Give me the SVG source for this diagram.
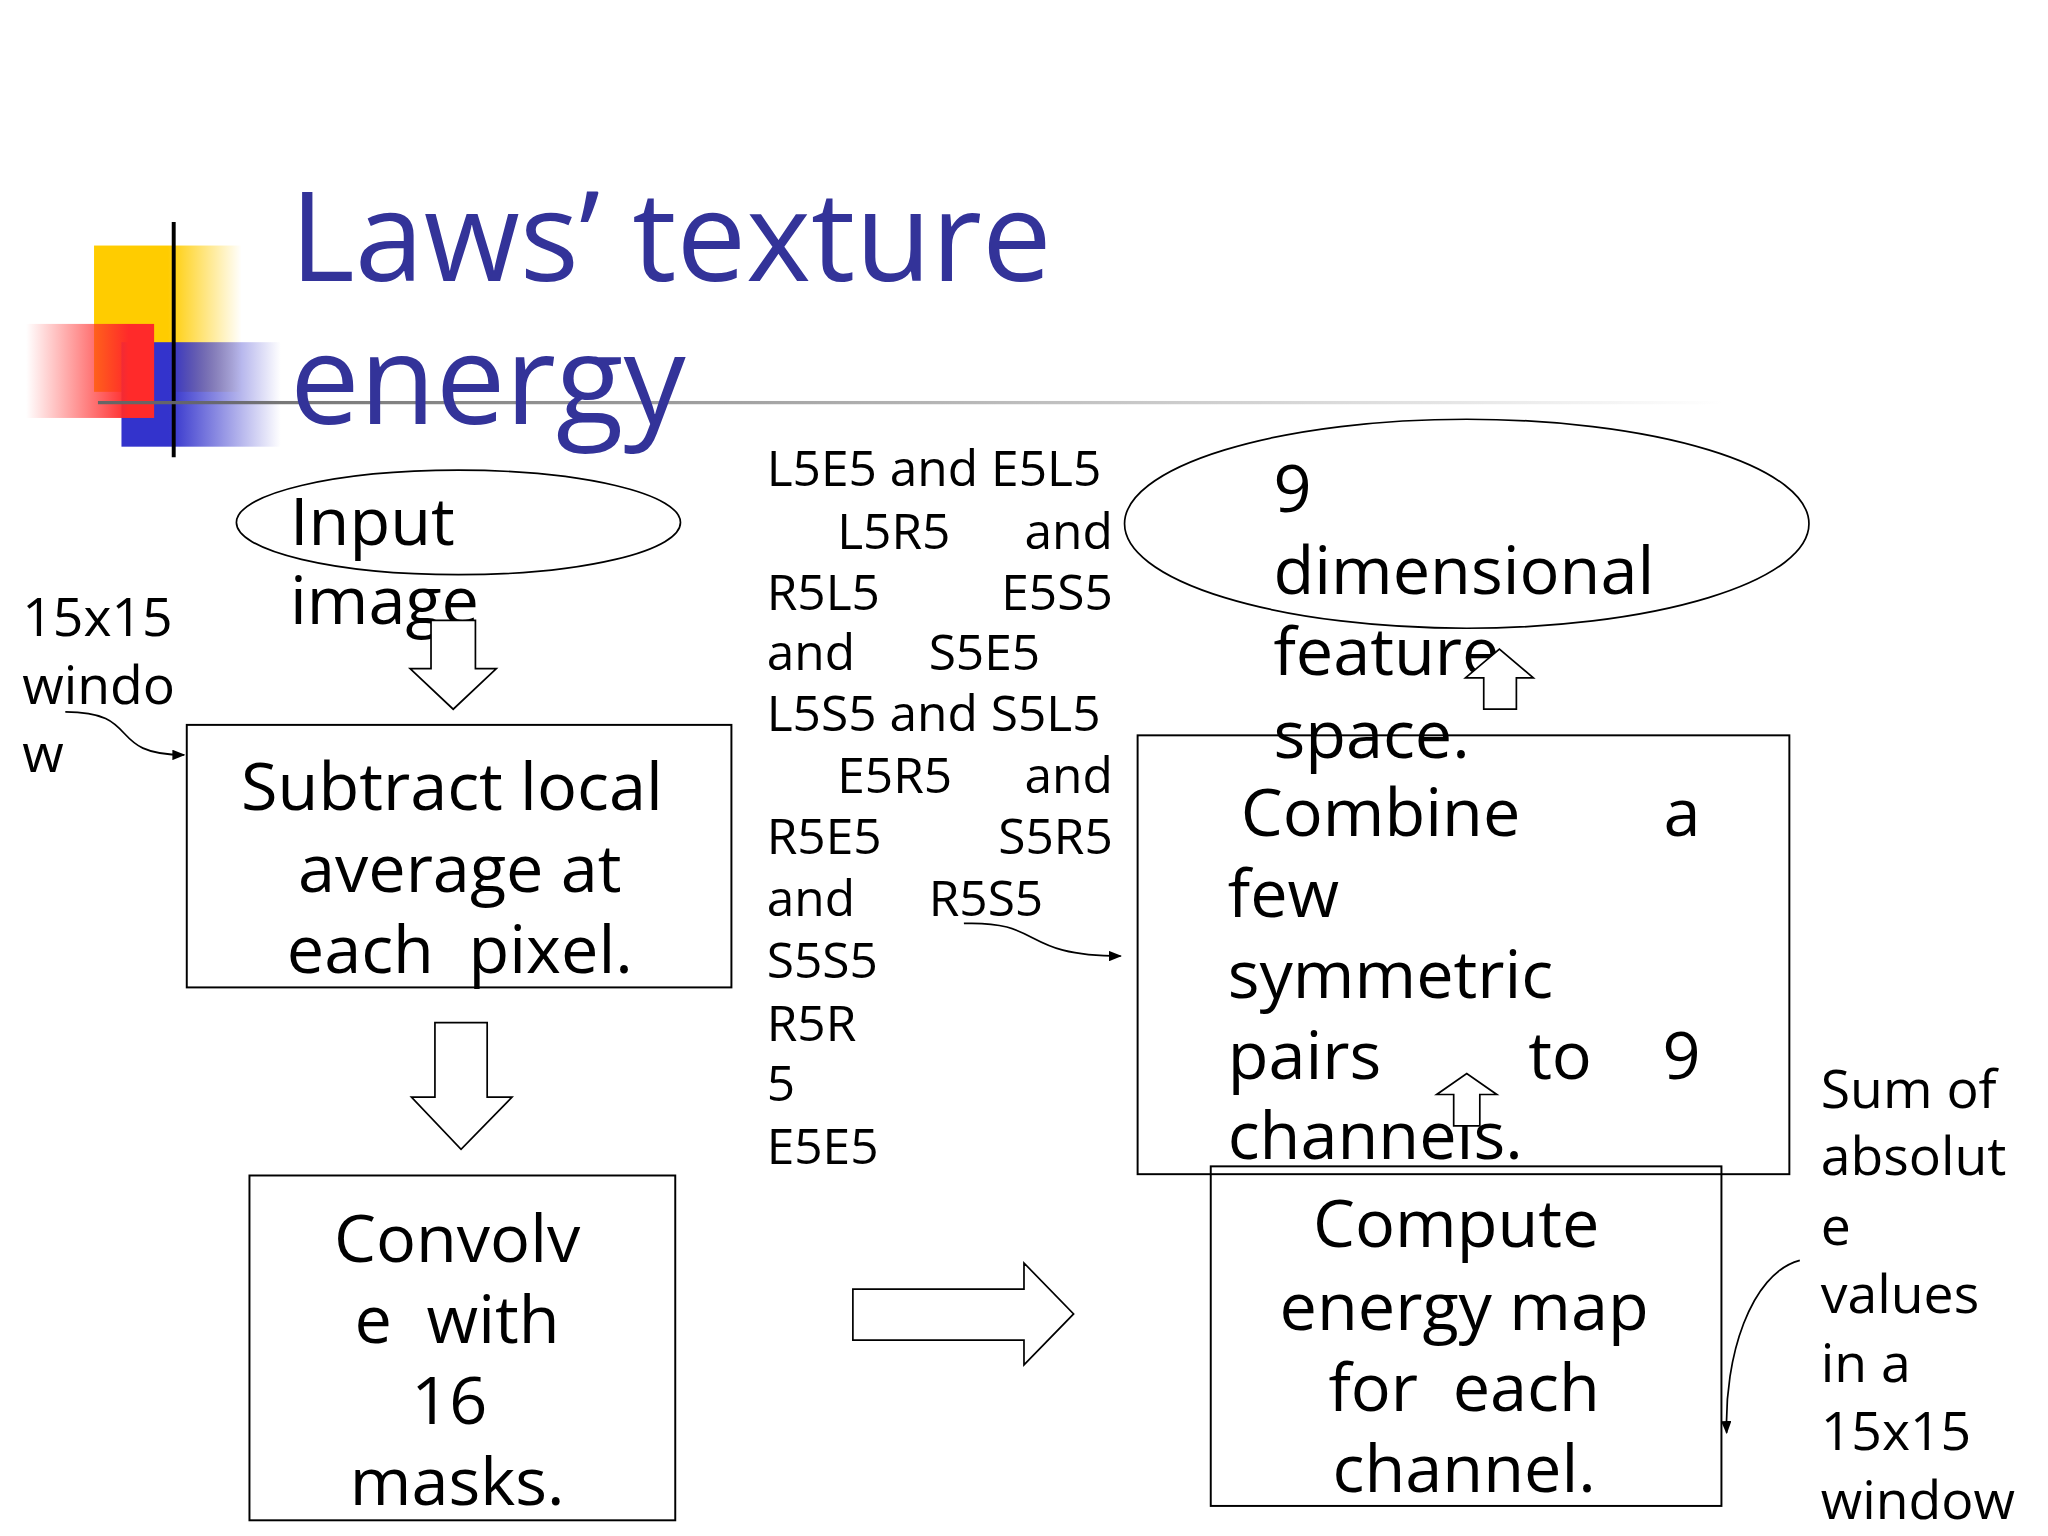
<svg xmlns="http://www.w3.org/2000/svg" width="2048" height="1536" viewBox="0 0 2048 1536">
<style>
text{font-family:"Open Sans","Noto Sans",sans-serif;fill:#000}
.t{font-size:95px;fill:#333399}
.b{font-size:51px}
.s{font-size:38px}
.m{font-size:41px}
.box{fill:#fff;stroke:#000;stroke-width:1.5}
.ha{fill:#fff;stroke:#000;stroke-width:1.3}
.c{fill:none;stroke:#000;stroke-width:1.3;marker-end:url(#ah)}
</style>
<defs>
<marker id="ah" markerWidth="10" markerHeight="8" refX="9" refY="4" orient="auto" markerUnits="userSpaceOnUse"><path d="M0,0L10,4L0,8z" fill="#000"/></marker>
<linearGradient id="gy" x1="0" x2="1"><stop offset="0.5" stop-color="#ffcc00"/><stop offset="1" stop-color="#ffcc00" stop-opacity="0"/></linearGradient>
<linearGradient id="gr" x1="1" x2="0"><stop offset="0.2" stop-color="#ff2a2a"/><stop offset="1" stop-color="#ff2a2a" stop-opacity="0"/></linearGradient>
<linearGradient id="gb" x1="0" x2="1"><stop offset="0.3" stop-color="#3333cc"/><stop offset="1" stop-color="#3333cc" stop-opacity="0"/></linearGradient>
<linearGradient id="gl" x1="0" x2="1"><stop offset="0" stop-color="#666"/><stop offset="1" stop-color="#666" stop-opacity="0"/></linearGradient>
</defs>
<rect width="2048" height="1536" fill="#fff"/>
<g transform="scale(1.3061)">
<g id="deco">
<rect x="72" y="188" width="113" height="112" fill="url(#gy)"/>
<rect x="93" y="262" width="122" height="80" fill="url(#gb)"/>
<rect x="20" y="248" width="98" height="72" fill="url(#gr)"/>
<line x1="133" y1="170" x2="133" y2="350" stroke="#000" stroke-width="3"/>
<rect x="75" y="307" width="1245" height="2.5" fill="url(#gl)"/>
</g>
<g id="title"><text class="t" x="222" y="215">Laws’ texture</text><text class="t" x="222" y="325">energy</text></g>
<g id="input"><ellipse cx="351" cy="400" rx="170" ry="40" fill="none" stroke="#000" stroke-width="1.3"/><text class="b" x="222" y="417">Input</text><text class="b" x="222" y="478">image</text></g>
<g id="win"><text class="m" x="17" y="487">15x15</text><text class="m" x="17" y="539">windo</text><text class="m" x="17" y="591">w</text></g>
<g id="subtract"><rect class="box" x="143" y="555" width="417" height="201"/>
<text class="b" text-anchor="middle" x="346" y="620">Subtract local</text><text class="b" text-anchor="middle" x="352" y="683">average at</text><text class="b" text-anchor="middle" x="352" y="745" xml:space="preserve">each  pixel.</text></g>
<g id="convolve"><rect class="box" x="191" y="900" width="326" height="264"/>
<text class="b" text-anchor="middle" x="350" y="966">Convolv</text><text class="b" text-anchor="middle" x="350" y="1028" xml:space="preserve">e  with</text><text class="b" text-anchor="middle" x="344" y="1090">16</text><text class="b" text-anchor="middle" x="350" y="1152">masks.</text></g>
<g id="masks"><g class="s">
<text x="587" y="372">L5E5 and E5L5</text>
<text x="641" y="420">L5R5</text><text x="852" y="420" text-anchor="end">and</text>
<text x="587" y="467">R5L5</text><text x="852" y="467" text-anchor="end">E5S5</text>
<text x="587" y="513">and</text><text x="711" y="513">S5E5</text>
<text x="587" y="560">L5S5 and S5L5</text>
<text x="641" y="607">E5R5</text><text x="852" y="607" text-anchor="end">and</text>
<text x="587" y="654">R5E5</text><text x="852" y="654" text-anchor="end">S5R5</text>
<text x="587" y="701">and</text><text x="711" y="701">R5S5</text>
<text x="587" y="749">S5S5</text><text x="587" y="797">R5R</text><text x="587" y="843">5</text><text x="587" y="891">E5E5</text></g></g>
<g id="combine"><rect class="box" x="871" y="563" width="499" height="336"/>
<text class="b" x="950" y="640">Combine</text><text class="b" x="1302" y="640" text-anchor="end">a</text>
<text class="b" x="940" y="702">few</text><text class="b" x="940" y="764">symmetric</text>
<text class="b" x="940" y="826">pairs</text><text class="b" x="1170" y="826">to</text><text class="b" x="1302" y="826" text-anchor="end">9</text>
<text class="b" x="940" y="887">channels.</text></g>
<g id="feature"><ellipse cx="1123" cy="401" rx="262" ry="80" fill="none" stroke="#000" stroke-width="1.3"/>
<text class="b" x="975" y="392">9</text><text class="b" x="975" y="455">dimensional</text><text class="b" x="975" y="517">feature</text><text class="b" x="975" y="580">space.</text></g>
<g id="energy"><rect class="box" x="927" y="893" width="391" height="260" fill-opacity="0"/>
<text class="b" text-anchor="middle" x="1115" y="955">Compute</text><text class="b" text-anchor="middle" x="1121" y="1018">energy map</text><text class="b" text-anchor="middle" x="1121" y="1080" xml:space="preserve">for  each</text><text class="b" text-anchor="middle" x="1121" y="1142">channel.</text></g>
<g id="sum"><text class="m" x="1394" y="848">Sum of</text><text class="m" x="1394" y="900">absolut</text><text class="m" x="1394" y="953">e</text><text class="m" x="1394" y="1005">values</text><text class="m" x="1394" y="1058">in a</text><text class="m" x="1394" y="1110">15x15</text><text class="m" x="1394" y="1163">window</text></g>
<g id="connectors">
<path class="ha" d="M330,475H364V512H380L347,543L314,512H330Z"/>
<path class="ha" d="M333,783H373V840H392L353,880L315,840H333Z"/>
<path class="ha" d="M653,987H784V967L822,1006L784,1045V1026H653Z"/>
<path class="ha" d="M1113,862V838H1100L1123,822L1146,838H1133V862Z"/>
<path class="ha" d="M1136,543V519H1122L1148,497L1174,519H1161V543Z"/>
<path class="c" d="M50,545C110,545 80,578 141,578"/>
<path class="c" d="M738,707C800,705 780,732 858,732"/>
<path class="c" d="M1378,965C1340,975 1320,1040 1322,1097"/>
</g>
</g>
</svg>
